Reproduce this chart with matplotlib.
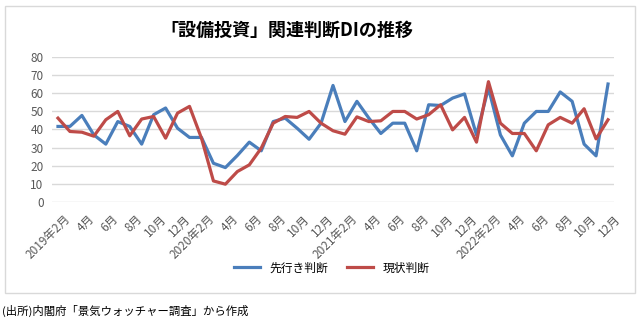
import matplotlib.pyplot as plt
from matplotlib.patches import Rectangle
from matplotlib.transforms import ScaledTranslation

plt.rcParams['font.family'] = ['Noto Sans CJK JP', 'DejaVu Sans']

# monthly, 2019/2 - 2022/12
months = [f"{y}/{m}" for y in range(2019, 2023) for m in range(1, 13)][1:]
forecast_di = [41.7, 41.7, 47.8, 37.0, 31.9, 44.4, 41.7, 31.9, 48.2, 51.9,
               40.7, 35.6, 35.6, 21.3, 18.9, 25.6, 33.0, 28.2, 44.4, 46.3,
               40.7, 34.6, 43.5, 64.4, 44.4, 55.6, 46.3, 37.8, 43.5, 43.5,
               28.2, 53.7, 53.3, 57.4, 59.7, 37.0, 63.0, 37.0, 25.4, 43.5,
               50.0, 50.0, 60.8, 55.6, 31.9, 25.4, 65.2]
current_di = [46.3, 38.9, 38.5, 36.3, 45.4, 50.0, 36.5, 45.8, 47.2, 35.2,
              49.1, 52.8, 35.2, 11.5, 9.7, 16.7, 20.4, 29.7, 43.5, 47.2,
              46.7, 50.0, 43.5, 39.3, 37.4, 47.0, 44.4, 44.8, 50.0, 50.0,
              45.8, 48.2, 53.7, 39.8, 46.7, 33.0, 66.5, 43.5, 37.8, 37.8,
              28.2, 42.6, 46.7, 43.5, 51.5, 34.8, 45.4]

tick_labels = []
for i, s in enumerate(months):
    y, m = s.split('/')
    if i % 2 == 0:
        tick_labels.append(f"{y}年{m}月" if m == '2' else f"{m}月")

blue = '#4a7ebb'
red = '#be4b48'

fig = plt.figure(figsize=(6.4, 3.22), dpi=100)
fig.patches.append(Rectangle((5 / 640, 1 - 293 / 322), 630 / 640, 287 / 322,
                             transform=fig.transFigure, fill=False,
                             edgecolor='#d9d9d9', linewidth=1))

ax = fig.add_axes([52 / 640, 1 - 201.7 / 322, 562 / 640, 144.4 / 322])
x = list(range(len(months)))
ax.plot(x, forecast_di, color=blue, lw=2.3, label='先行き判断')
ax.plot(x, current_di, color=red, lw=2.3, label='現状判断')

ax.set_xlim(-0.5, len(months) - 0.5)
ax.set_ylim(0, 80)
ax.set_yticks(range(0, 81, 10))
ax.grid(axis='y', color='#d9d9d9', lw=1)
ax.set_axisbelow(True)
for s in ax.spines.values():
    s.set_visible(False)
ax.tick_params(length=0, labelsize=8.5, colors='#595959', pad=6)
ax.set_xticks(x[::2])
ax.set_xticklabels(tick_labels, rotation=45, ha='right', rotation_mode='anchor')
shift = ScaledTranslation(6 / 100, -2 / 100, fig.dpi_scale_trans)
for lab in ax.get_xticklabels():
    lab.set_transform(lab.get_transform() + shift)

fig.text(287 / 640, 1 - 30 / 322, '「設備投資」関連判断DIの推移', ha='center', va='center',
         fontsize=13, fontweight='bold')
fig.legend(loc='center', bbox_to_anchor=(332 / 640, 1 - 268 / 322), ncol=2,
           frameon=False, fontsize=8.5, handlelength=2.2, columnspacing=1.6)
fig.text(2 / 640, 1 - 311 / 322, '(出所)内閣府「景気ウォッチャー調査」から作成', ha='left',
         va='center', fontsize=8.2)

fig.savefig('out.png', dpi=100)
